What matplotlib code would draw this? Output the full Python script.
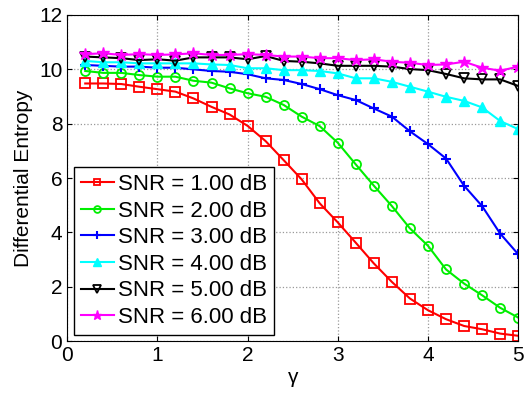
import numpy as np
from matplotlib import pyplot as plt

plt.rcParams['font.family'] = ['Liberation Sans', 'DejaVu Sans']

gamma = np.round(np.arange(1, 26) * 0.2, 1)

snr1 = [9.48, 9.48, 9.46, 9.36, 9.27, 9.18, 8.93, 8.62, 8.34, 7.92, 7.36, 6.66, 5.95,
        5.07, 4.37, 3.62, 2.86, 2.18, 1.57, 1.14, 0.81, 0.56, 0.44, 0.28, 0.20]
snr2 = [9.94, 9.87, 9.87, 9.79, 9.73, 9.73, 9.58, 9.51, 9.30, 9.12, 8.99, 8.69, 8.26,
        7.91, 7.30, 6.50, 5.72, 4.97, 4.15, 3.51, 2.64, 2.12, 1.69, 1.23, 0.87]
snr3 = [10.16, 10.13, 10.10, 10.10, 10.06, 10.06, 10.00, 9.94, 9.91, 9.82, 9.67, 9.61, 9.46,
        9.27, 9.05, 8.87, 8.56, 8.26, 7.72, 7.25, 6.72, 5.72, 4.97, 3.96, 3.20]
snr4 = [10.31, 10.26, 10.26, 10.22, 10.22, 10.22, 10.22, 10.18, 10.16, 10.04, 10.04, 9.97, 9.97,
        9.94, 9.85, 9.67, 9.67, 9.54, 9.36, 9.18, 8.99, 8.84, 8.60, 8.10, 7.80]
snr5 = [10.47, 10.44, 10.41, 10.34, 10.37, 10.32, 10.44, 10.44, 10.44, 10.37, 10.49, 10.31, 10.28,
        10.22, 10.13, 10.13, 10.13, 10.10, 10.01, 9.97, 9.83, 9.67, 9.63, 9.63, 9.39]
snr6 = [10.56, 10.59, 10.53, 10.56, 10.53, 10.55, 10.59, 10.53, 10.53, 10.56, 10.53, 10.47, 10.47,
        10.41, 10.41, 10.34, 10.37, 10.28, 10.24, 10.16, 10.18, 10.28, 10.06, 9.95, 10.10]

labels = ["SNR = 1.00 dB", "SNR = 2.00 dB", "SNR = 3.00 dB",
          "SNR = 4.00 dB", "SNR = 5.00 dB", "SNR = 6.00 dB"]

fig = plt.figure(figsize=(5.25, 3.94), dpi=100)
ax = fig.add_axes([0.128, 0.134, 0.859, 0.828])

ax.plot(gamma, snr1, color='red', marker='s', mfc='none', ms=6.5, mew=1.3, lw=1.5, label=labels[0])
ax.plot(gamma, snr2, color='#00ee00', marker='o', mfc='none', ms=6.5, mew=1.3, lw=1.5, label=labels[1])
ax.plot(gamma, snr3, color='blue', marker='+', ms=7, mew=1.5, lw=1.5, label=labels[2])
ax.plot(gamma, snr4, color='cyan', marker='^', ms=7, lw=1.5, label=labels[3])
ax.plot(gamma, snr5, color='black', marker='v', mfc='none', ms=7, mew=1.3, lw=1.5, label=labels[4])
ax.plot(gamma, snr6, color='magenta', marker='*', ms=9, lw=1.5, label=labels[5])

ax.set_xlim(0, 5)
ax.set_ylim(0, 12)
ax.set_xticks(range(0, 6))
ax.set_yticks(range(0, 13, 2))
ax.tick_params(direction='in', labelsize=15, top=True, right=True)
ax.grid(True, linestyle=':', color='#999999', linewidth=0.9)
ax.set_xlabel("γ", fontsize=15, labelpad=2)
ax.set_ylabel("Differential Entropy", fontsize=15, labelpad=4)

leg = ax.legend(loc='lower left', fontsize=16, fancybox=False, framealpha=1,
                edgecolor='black', handlelength=1.5, handletextpad=0.2,
                labelspacing=0.25, borderpad=0.3, borderaxespad=0.3, markerscale=0.75)
leg.get_frame().set_linewidth(1.0)

fig.savefig("out.png", dpi=100)
